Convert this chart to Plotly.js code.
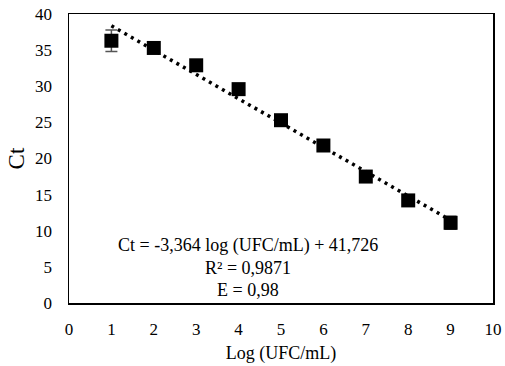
<!DOCTYPE html>
<html>
<head>
<meta charset="utf-8">
<script src="https://cdn.plot.ly/plotly-3.0.1.min.js"></script>
<style>
  html, body { margin: 0; padding: 0; background: #fff; }
  #chart { width: 505px; height: 366px; }
</style>
</head>
<body>
<div id="chart"></div>
<script>
// Standard curve: Ct versus log concentration
const logConc = [1, 2, 3, 4, 5, 6, 7, 8, 9];
const ctMean  = [36.3, 35.3, 32.9, 29.6, 25.3, 21.8, 17.5, 14.2, 11.1];
const ctError = [1.5, 0.4, 0.6, 0.5, 0.6, 0.4, 0.5, 0.4, 0.9];

// Linear fit reported on the chart
const slope = -3.364;
const intercept = 41.726;
const fitLabels = [
  'Ct = -3,364 log (UFC/mL) + 41,726',
  'R² = 0,9871',
  'E = 0,98'
];

const xTicks = [0, 1, 2, 3, 4, 5, 6, 7, 8, 9, 10];
const yTicks = [0, 5, 10, 15, 20, 25, 30, 35, 40];

const fitX = [logConc[0], logConc[logConc.length - 1]];
const fitY = fitX.map(x => slope * x + intercept);

const serif = '"Liberation Serif", "Times New Roman", Times, serif';

const traces = [
  {
    x: fitX, y: fitY, type: 'scatter', mode: 'lines',
    line: { color: '#000', width: 3.5, dash: '3px,4.5px' },
    hoverinfo: 'skip'
  },
  {
    x: logConc, y: ctMean, type: 'scatter', mode: 'markers',
    marker: { symbol: 'square', size: 14, color: '#000' },
    error_y: { type: 'data', array: ctError, visible: true,
               color: '#555', thickness: 1.5, width: 6 }
  }
];

const annotations = fitLabels.map((t, i) => ({
  text: t, x: 4.23, y: 7.9 - i * 3.05, xref: 'x', yref: 'y',
  showarrow: false, xanchor: 'center', yanchor: 'middle',
  font: { family: serif, size: 18, color: '#000' }
}));

const layout = {
  width: 505, height: 366,
  margin: { l: 69, r: 12, t: 14, b: 63 },
  paper_bgcolor: '#fff', plot_bgcolor: '#fff',
  showlegend: false,
  font: { family: serif, size: 17, color: '#000' },
  xaxis: {
    range: [0, 10], tickvals: xTicks, ticktext: xTicks.map(String),
    showgrid: false, zeroline: false,
    showline: true, linecolor: '#000', linewidth: 1.5, mirror: true,
    ticks: '', ticklen: 0, ticklabelstandoff: 10,
    tickfont: { family: serif, size: 17, color: '#000' },
    title: { text: 'Log (UFC/mL)', font: { family: serif, size: 18, color: '#000' }, standoff: 8 }
  },
  yaxis: {
    range: [0, 40], tickvals: yTicks, ticktext: yTicks.map(String),
    showgrid: false, zeroline: false,
    showline: true, linecolor: '#000', linewidth: 1.5, mirror: true,
    ticks: '', ticklen: 0, ticklabelstandoff: 12,
    tickfont: { family: serif, size: 17, color: '#000' },
    title: { text: 'Ct', font: { family: serif, size: 23, color: '#000' }, standoff: 4 }
  },
  annotations: annotations
};

Plotly.newPlot('chart', traces, layout, { displayModeBar: false, staticPlot: true });
</script>
</body>
</html>
